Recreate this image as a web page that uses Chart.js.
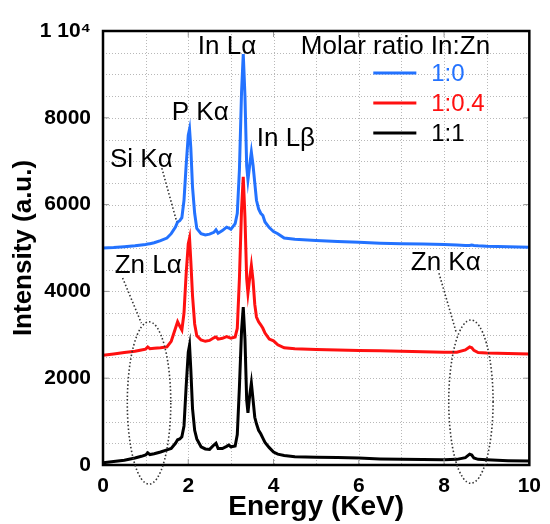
<!DOCTYPE html>
<html lang="en">
<head>
<meta charset="utf-8">
<title>EDX spectra</title>
<script src="https://cdn.jsdelivr.net/npm/chart.js@4.4.1/dist/chart.umd.min.js"></script>
<style>
  body { margin: 0; background: #fff; }
</style>
</head>
<body>
<canvas id="edx" width="550" height="524"></canvas>
<script>
// energy grid (KeV) shared by the three spectra
var energy = [0, 0.25, 0.5, 0.75, 0.9, 1.0, 1.05, 1.1, 1.2, 1.35, 1.5, 1.6, 1.7, 1.75, 1.8, 1.85, 1.9, 1.95,
  2.0, 2.03, 2.06, 2.1, 2.15, 2.2, 2.3, 2.4, 2.5, 2.6, 2.65, 2.7, 2.8, 2.9, 2.95, 3.0, 3.1, 3.15, 3.2, 3.25,
  3.29, 3.33, 3.37, 3.4, 3.44, 3.48, 3.52, 3.56, 3.6, 3.65, 3.7, 3.75, 3.8, 3.9, 4.0, 4.1, 4.25, 4.5, 5.0,
  5.5, 6.0, 6.5, 7.0, 7.5, 8.0, 8.3, 8.5, 8.6, 8.65, 8.7, 8.8, 9.0, 9.5, 10.0];

// intensity (a.u.), molar ratio In:Zn = 1:0
var ratio1to0 = [5000, 5010, 5030, 5050, 5070, 5080, 5090, 5100, 5120, 5170, 5230, 5330, 5480, 5600, 5630, 5700, 6100, 6900,
  7600, 7740, 7300, 6400, 5800, 5450, 5330, 5300, 5320, 5360, 5420, 5340, 5400, 5480, 5460, 5430, 5560, 5800, 6800, 8600,
  9470, 8500, 6900, 6570, 6900, 7210, 6900, 6500, 6100, 5900, 5800, 5750, 5600, 5470, 5380, 5330, 5230, 5200, 5170,
  5150, 5130, 5110, 5100, 5090, 5080, 5070, 5060, 5060, 5070, 5060, 5050, 5040, 5030, 5020];

// 1:0.4
var ratio1to04 = [2530, 2560, 2590, 2620, 2650, 2670, 2720, 2680, 2690, 2700, 2720, 2850, 3150, 3300, 3200, 3110, 3500, 4400,
  5100, 5230, 4700, 3900, 3250, 2980, 2880, 2850, 2870, 2930, 2950, 2900, 2920, 2960, 2940, 2920, 2950, 3150, 4300, 5900,
  6640, 5700, 4300, 3960, 4300, 4600, 4250, 3700, 3410, 3300, 3230, 3150, 3040, 2900, 2860, 2770, 2700, 2680, 2660,
  2650, 2640, 2630, 2620, 2610, 2600, 2600, 2650, 2720, 2700, 2640, 2590, 2580, 2570, 2560];

// 1:1
var ratio1to1 = [50, 80, 110, 160, 200, 230, 280, 240, 260, 300, 350, 380, 500, 580, 600, 650, 900, 1800,
  2600, 2760, 2200, 1300, 800, 600, 420, 370, 360, 460, 500, 380, 380, 430, 460, 420, 440, 700, 1800, 3100,
  3640, 2900, 1500, 1200, 1600, 1890, 1500, 1100, 950, 800, 720, 620, 520, 400, 300, 250, 220, 190, 180,
  170, 160, 140, 130, 125, 120, 130, 170, 250, 230, 160, 130, 120, 100, 90];

var seriesNames = ['1:0', '1:0.4', '1:1'];
var seriesColors = ['#2372ff', '#ff1010', '#000000'];

// peak labels, placed in data units (KeV, a.u.)
var peakLabels = [
  { text: 'In L\u03b1', x: 2.91, y: 9630 },
  { text: 'P K\u03b1', x: 2.28, y: 8120 },
  { text: 'Si K\u03b1', x: 0.90, y: 7030 },
  { text: 'In L\u03b2', x: 4.29, y: 7510 },
  { text: 'Zn L\u03b1', x: 1.06, y: 4590 },
  { text: 'Zn K\u03b1', x: 8.04, y: 4650 }
];
var leaders = [
  [1.38, 6840, 1.73, 5600],
  [0.46, 4310, 0.90, 3270],
  [7.88, 4420, 8.29, 3040]
];
var ellipses = [
  [1.08, 1430, 0.51, 1870],
  [8.63, 1460, 0.52, 1880]
];

var FONT = '"Liberation Sans", Arial, sans-serif';

var datasets = [ratio1to0, ratio1to04, ratio1to1].map(function (s, k) {
  return {
    label: seriesNames[k],
    data: energy.map(function (e, i) { return { x: e, y: s[i] }; }),
    borderColor: seriesColors[k],
    borderWidth: 3,
    pointRadius: 0,
    tension: 0,
    fill: false
  };
});

// dotted grid at every scale tick
var dottedGrid = {
  id: 'dottedGrid',
  beforeDatasetsDraw: function (chart) {
    var ctx = chart.ctx, xs = chart.scales.x, ys = chart.scales.y, a = chart.chartArea;
    ctx.save();
    ctx.strokeStyle = '#b8b8b8';
    ctx.lineWidth = 1;
    ctx.setLineDash([1, 2]);
    ctx.beginPath();
    xs.ticks.forEach(function (t) {
      var px = Math.round(xs.getPixelForValue(t.value)) + 0.5;
      ctx.moveTo(px, a.top); ctx.lineTo(px, a.bottom);
    });
    ys.ticks.forEach(function (t) {
      var py = Math.round(ys.getPixelForValue(t.value)) + 0.5;
      ctx.moveTo(a.left, py); ctx.lineTo(a.right, py);
    });
    ctx.stroke();
    ctx.restore();
  }
};

var extras = {
  id: 'extras',
  afterDraw: function (chart) {
    var ctx = chart.ctx, xs = chart.scales.x, ys = chart.scales.y, a = chart.chartArea;
    ctx.save();

    // small inner tick marks
    ctx.strokeStyle = '#999';
    ctx.lineWidth = 1;
    ctx.beginPath();
    [2, 4, 6, 8].forEach(function (v) {
      var px = xs.getPixelForValue(v);
      ctx.moveTo(px, a.bottom); ctx.lineTo(px, a.bottom - 6);
      ctx.moveTo(px, a.top); ctx.lineTo(px, a.top + 6);
    });
    [2000, 4000, 6000, 8000].forEach(function (v) {
      var py = ys.getPixelForValue(v);
      ctx.moveTo(a.left, py); ctx.lineTo(a.left + 6, py);
      ctx.moveTo(a.right, py); ctx.lineTo(a.right - 6, py);
    });
    ctx.stroke();

    // frame
    ctx.strokeStyle = '#000';
    ctx.lineWidth = 2.5;
    ctx.strokeRect(a.left, a.top, a.right - a.left, a.bottom - a.top);

    // dotted leaders and ellipses
    ctx.strokeStyle = '#333';
    ctx.lineWidth = 1.6;
    ctx.setLineDash([1.5, 2.2]);
    leaders.forEach(function (l) {
      ctx.beginPath();
      ctx.moveTo(xs.getPixelForValue(l[0]), ys.getPixelForValue(l[1]));
      ctx.lineTo(xs.getPixelForValue(l[2]), ys.getPixelForValue(l[3]));
      ctx.stroke();
    });
    ellipses.forEach(function (e) {
      var cx = xs.getPixelForValue(e[0]), cy = ys.getPixelForValue(e[1]);
      var rx = xs.getPixelForValue(e[0] + e[2]) - cx, ry = cy - ys.getPixelForValue(e[1] + e[3]);
      ctx.beginPath();
      ctx.ellipse(cx, cy, rx, ry, 0, 0, Math.PI * 2);
      ctx.stroke();
    });
    ctx.setLineDash([]);

    // peak labels
    ctx.fillStyle = '#000';
    ctx.font = '26px ' + FONT;
    ctx.textAlign = 'center';
    ctx.textBaseline = 'middle';
    peakLabels.forEach(function (p) {
      ctx.fillText(p.text, xs.getPixelForValue(p.x), ys.getPixelForValue(p.y));
    });

    // legend
    ctx.fillText('Molar ratio In:Zn', xs.getPixelForValue(6.86), ys.getPixelForValue(9630));
    ctx.font = '24px ' + FONT;
    ctx.textAlign = 'left';
    var ly = [9030, 8340, 7650];
    chart.data.datasets.forEach(function (d, k) {
      var py = ys.getPixelForValue(ly[k]);
      ctx.strokeStyle = d.borderColor;
      ctx.lineWidth = 3;
      ctx.beginPath();
      ctx.moveTo(xs.getPixelForValue(6.34), py);
      ctx.lineTo(xs.getPixelForValue(7.35), py);
      ctx.stroke();
      ctx.fillStyle = d.borderColor;
      ctx.fillText(d.label, xs.getPixelForValue(7.70), py + 1);
    });
    ctx.restore();
  }
};

new Chart(document.getElementById('edx'), {
  type: 'line',
  data: { datasets: datasets },
  options: {
    responsive: false,
    animation: false,
    layout: { padding: { top: 31, right: 13, left: 0, bottom: 0 } },
    plugins: { legend: { display: false }, tooltip: { enabled: false } },
    scales: {
      x: {
        type: 'linear',
        min: 0, max: 10,
        afterFit: function (s) { s.height = 59; },
        border: { display: false },
        grid: { display: false, drawTicks: false },
        ticks: {
          stepSize: 1, autoSkip: false, maxRotation: 0, padding: 9, color: '#000',
          font: { family: FONT, size: 21, weight: 'bold' },
          callback: function (v) { return v % 2 === 0 ? String(v) : ' '; }
        },
        title: {
          display: true, text: 'Energy (KeV)', color: '#000',
          font: { family: FONT, size: 28, weight: 'bold' },
          padding: { top: 0, bottom: 0 }
        }
      },
      y: {
        min: 0, max: 10000,
        afterFit: function (s) { s.width = 103; },
        border: { display: false },
        grid: { display: false, drawTicks: false },
        ticks: {
          stepSize: 500, autoSkip: false, padding: 12, color: '#000',
          font: { family: FONT, size: 21, weight: 'bold' },
          callback: function (v) {
            if (v === 10000) return '1 10\u2074';
            return v % 2000 === 0 ? String(v) : ' ';
          }
        },
        title: {
          display: true, text: 'Intensity (a.u.)', color: '#000',
          font: { family: FONT, size: 26, weight: 'bold' },
          padding: { top: 8, bottom: 0 }
        }
      }
    }
  },
  plugins: [dottedGrid, extras]
});
</script>
</body>
</html>
